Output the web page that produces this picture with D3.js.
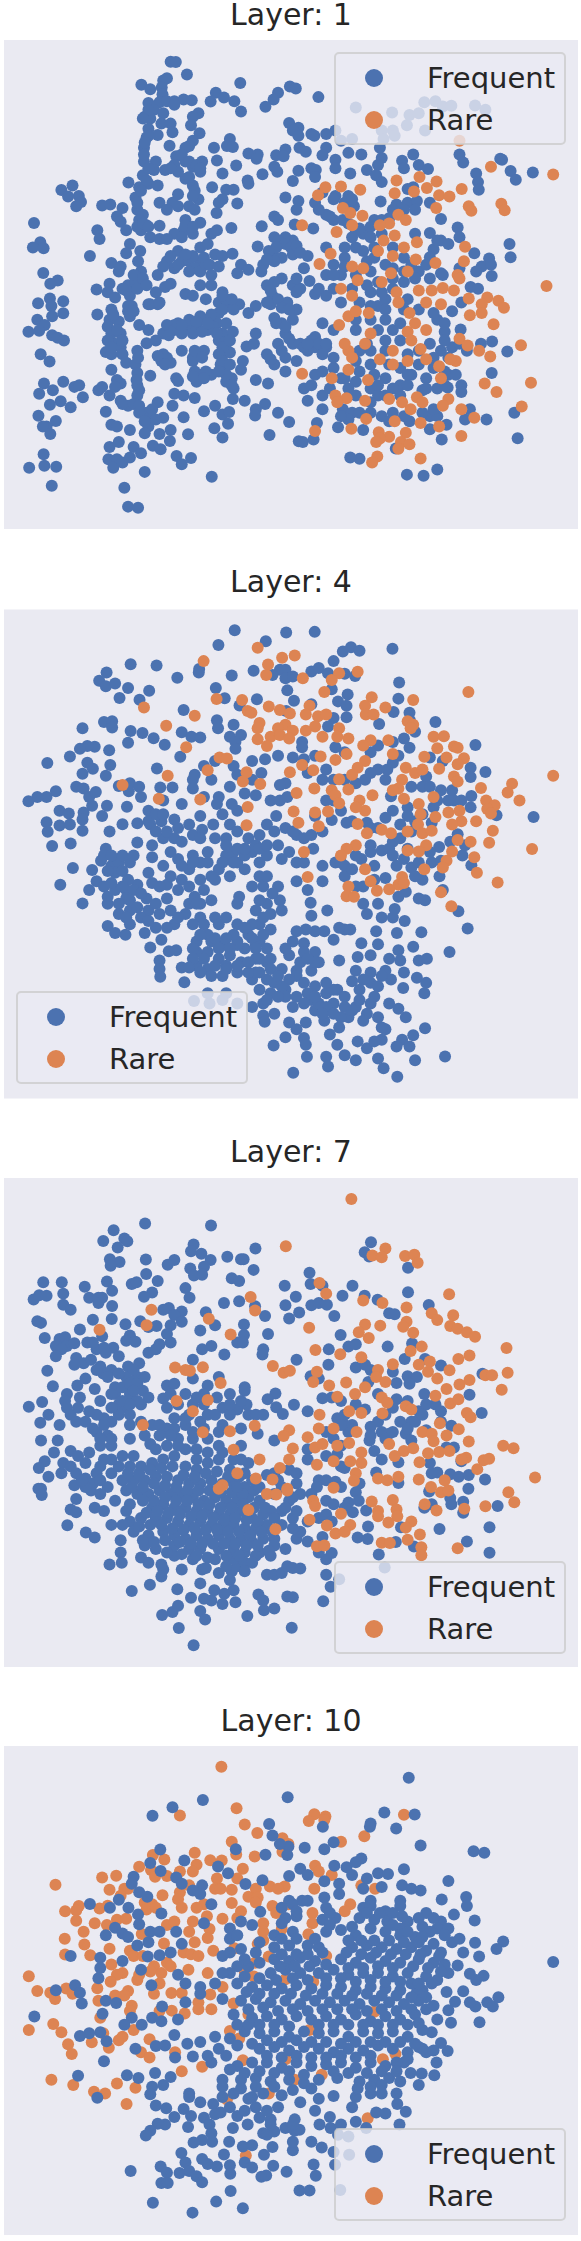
<!DOCTYPE html>
<html><head><meta charset="utf-8">
<script src="https://cdn.jsdelivr.net/npm/d3@7"></script>
<style>html,body{margin:0;padding:0;background:#fff}svg{display:block}text{font-family:"DejaVu Sans",sans-serif;fill:#262626}</style>
</head><body><svg id="c" width="581" height="2241"></svg>
<script>
const layerNames = ["Layer: 1","Layer: 4","Layer: 7","Layer: 10"];
const legendLabels = ["Frequent","Rare"];
const colorFrequent = "#4c72b0", colorRare = "#dd8452";

const layer1Frequent = [[460,180],[474,181],[504,217],[381,247],[405,260],[440,235],[450,228],[436,255],[438,275],[648,242],[782,252],[798,258],[859,283],[750,270],[738,290],[716,311],[582,270],[604,284],[568,296],[632,295],[650,325],[400,300],[430,298],[450,295],[470,295],[495,290],[517,292],[470,305],[415,320],[440,330],[390,340],[405,345],[535,330],[520,340],[515,365],[435,360],[460,360],[400,375],[465,385],[538,388],[425,393],[395,400],[520,410],[510,425],[457,424],[388,430],[500,430],[620,405],[612,425],[628,428],[577,430],[670,447],[695,450],[692,462],[770,435],[745,452],[765,455],[780,358],[805,372],[790,380],[805,395],[840,390],[848,395],[880,390],[808,430],[825,442],[880,430],[870,452],[905,380],[920,410],[950,405],[940,445],[975,450],[1025,430],[1030,460],[1115,450],[1085,468],[1090,490],[1130,480],[1155,492],[1240,450],[1250,473],[1350,462],[1355,465],[1285,505],[1290,530],[1292,552],[1378,498],[1392,523],[1438,502],[960,313],[1058,328],[1145,298],[1175,295],[1195,310],[1218,308],[1282,307],[1310,320],[1105,335],[1130,330],[1098,365],[1147,380],[1030,380],[1060,380],[1065,395],[1035,405],[388,470],[420,470],[385,510],[475,455],[470,480],[500,470],[545,470],[520,485],[540,500],[415,495],[445,495],[585,467],[637,482],[600,505],[708,507],[740,485],[748,500],[805,497],[790,527],[840,490],[852,495],[850,515],[905,465],[905,490],[945,505],[990,495],[1020,480],[1015,510],[1030,530],[1115,545],[195,540],[165,553],[183,572],[212,570],[205,600],[218,588],[91,649],[108,705],[88,720],[117,722],[116,794],[155,816],[135,825],[134,868],[102,882],[170,876],[170,911],[138,890],[140,920],[100,930],[120,945],[76,965],[105,962],[140,975],[155,982],[172,990],[109,1030],[133,1051],[118,1115],[105,1145],[142,1135],[170,1110],[200,1125],[213,1120],[223,1155],[163,1167],[134,1177],[190,1184],[103,1209],[150,1224],[125,1240],[115,1240],[135,1262],[117,1321],[78,1360],[119,1354],[151,1357],[139,1412],[275,598],[297,595],[330,605],[315,630],[325,645],[262,670],[268,695],[340,670],[242,745],[300,765],[325,775],[320,790],[260,842],[295,825],[290,850],[310,865],[262,915],[300,900],[295,930],[290,950],[320,935],[300,970],[325,970],[310,1000],[325,1010],[285,1024],[300,1030],[330,1030],[340,1055],[265,1135],[275,1125],[295,1150],[300,1075],[315,1105],[325,1115],[310,1125],[285,1197],[325,1165],[345,1180],[300,1235],[315,1240],[350,1250],[295,1300],[320,1285],[292,1335],[315,1335],[305,1360],[330,1345],[350,1330],[360,1300],[380,1318],[390,1372],[335,1418],[345,1473],[372,1476],[412,1296],[433,1306],[476,1326],[490,1350],[515,1332],[571,1386],[346,531],[375,545],[365,575],[400,535],[425,540],[370,610],[385,625],[375,640],[395,655],[380,670],[430,657],[405,690],[430,695],[350,710],[378,730],[340,737],[372,760],[380,790],[370,805],[345,830],[365,820],[350,860],[355,890],[350,920],[375,945],[400,960],[395,998],[420,990],[425,800],[420,850],[400,885],[425,885],[445,835],[460,825],[440,970],[470,945],[450,945],[500,520],[520,540],[535,580],[480,565],[465,590],[430,590],[450,610],[480,600],[510,600],[525,610],[500,640],[540,648],[495,670],[520,680],[450,760],[480,730],[470,780],[510,760],[540,720],[540,760],[525,780],[550,750],[570,680],[585,670],[560,710],[580,740],[600,745],[540,790],[570,800],[627,738],[624,663],[584,620],[572,545],[610,552],[630,552],[600,580],[590,590],[640,592],[668,525],[670,535],[540,830],[570,830],[600,850],[500,855],[520,860],[555,870],[590,880],[620,885],[645,885],[590,910],[550,930],[530,950],[500,950],[470,960],[455,975],[490,970],[560,960],[585,940],[600,970],[610,1000],[628,965],[520,1040],[490,1020],[440,1030],[435,1050],[460,1055],[550,1020],[520,1050],[600,1030],[620,1025],[595,1060],[655,1050],[650,1075],[665,1008],[690,970],[685,1000],[605,1080],[540,1090],[570,1090],[530,1110],[625,1100],[610,1110],[630,1130],[475,1100],[480,1108],[405,1093],[370,1020],[365,1060],[370,1085],[370,1120],[370,1150],[470,1145],[495,1150],[465,1180],[425,1170],[440,1215],[405,1215],[400,1240],[390,1260],[430,1262],[460,1250],[458,1282],[507,1263],[495,1213],[525,1157],[550,1196],[580,1180],[600,1205],[618,1198],[615,1232],[578,1245],[600,1272],[628,1160],[660,1165],[690,1190],[688,1208],[715,1175],[690,1105],[723,1115],[750,1200],[780,1227],[727,1265],[806,1283],[817,1285],[846,1278],[855,1230],[706,658],[740,630],[750,640],[795,653],[770,575],[805,585],[800,610],[845,665],[695,717],[740,690],[770,690],[790,700],[735,740],[710,770],[790,740],[830,745],[650,770],[640,795],[670,785],[705,790],[820,780],[835,817],[720,830],[760,810],[790,830],[800,850],[735,860],[730,885],[775,880],[850,855],[690,890],[670,910],[740,925],[760,940],[800,900],[790,930],[770,970],[750,1000],[790,1000],[810,1000],[850,980],[850,1010],[830,1020],[720,1030],[740,1060],[770,1080],[800,1050],[770,1040],[870,560],[850,590],[880,625],[900,640],[905,570],[940,570],[955,600],[925,640],[880,720],[960,670],[980,680],[1010,640],[1050,635],[1070,595],[1100,590],[1125,585],[1100,550],[1027,586],[1160,590],[1190,637],[1235,662],[1240,690],[1120,680],[1160,678],[1190,700],[1170,725],[1160,748],[1280,737],[1375,710],[1378,748],[1320,752],[1300,775],[1285,790],[1325,770],[1327,803],[1240,780],[1190,795],[1130,790],[1195,800],[1270,835],[1290,840],[1245,880],[1220,905],[1180,930],[1200,965],[1243,958],[1298,1000],[1328,993],[1369,1022],[1327,1085],[1245,1120],[1245,1140],[1208,1127],[1388,1200],[1313,1220],[1268,1190],[1255,1220],[1397,1274],[1192,1278],[1160,1248],[1205,1235],[1180,1365],[1143,1383],[1098,1380],[970,1334],[945,1330],[1068,1304],[980,1250],[912,1242],[930,750],[900,770],[960,720],[920,800],[880,800],[950,840],[880,860],[990,760],[1010,750],[1020,820],[1060,810],[1090,820],[1000,850],[1040,870],[1020,890],[1100,870],[1060,960],[1020,960],[960,960],[990,1000],[960,1050],[1000,1060],[1080,940],[1080,1070],[1160,1000],[1190,1020],[1220,1010],[1200,990],[1170,1040],[1150,1100],[1080,1120],[1100,1120],[1040,1100],[1000,1130],[960,1110],[940,1130],[900,1070],[850,1090],[820,1130],[840,1120],[870,1150],[830,1165],[870,1190],[925,1190],[950,1200],[1030,1210],[1050,1225],[1105,1225],[1160,1210],[1180,1210],[1020,1150],[960,1150],[1180,1130],[1140,1135],[1040,1020],[1130,1020],[1100,1030],[870,940],[900,960],[920,880]];
const layer1FrequentDense = [[400,320],[385,345],[400,395],[390,415],[388,450],[400,490],[395,525],[380,555],[370,590],[460,745],[490,760],[520,745],[555,770],[510,790],[480,770],[440,775],[565,770],[590,775],[500,740],[480,940],[510,930],[540,920],[570,915],[600,900],[520,970],[545,965],[575,950],[610,940],[590,990],[600,1010],[620,990],[490,945],[530,935],[560,940],[585,970],[305,915],[315,960],[330,990],[290,990],[345,890],[345,905],[360,905],[300,1010],[360,800],[385,810],[340,845],[370,840],[395,830],[330,840],[405,885],[430,880],[330,1175],[360,1175],[375,1180],[395,1200],[375,1200],[410,1190],[420,1220],[390,1225],[450,1040],[425,1035],[445,1060],[525,1020],[545,1040],[525,1080],[555,1080],[590,1030],[600,1050],[620,1060],[610,1090],[625,1120],[520,1095],[550,1100],[590,1080],[372,1040],[368,1105],[375,1135],[470,680],[500,655],[490,690],[450,695],[520,660],[370,660],[385,650],[400,660],[490,450],[510,470],[530,480],[540,490],[480,500],[460,490],[510,515],[525,555],[520,570],[610,870],[630,900],[600,860],[625,870],[750,700],[770,710],[745,720],[725,730],[785,720],[800,715],[810,735],[760,750],[740,760],[720,755],[740,820],[730,845],[750,870],[760,895],[780,900],[720,880],[810,840],[800,810],[745,940],[770,950],[780,985],[820,1010],[840,990],[860,1000],[880,1010],[870,1030],[830,1000],[760,1020],[730,1045],[900,580],[930,590],[950,580],[860,610],[890,630],[940,650],[970,665],[1000,660],[1030,640],[1060,610],[1090,610],[1120,610],[1030,680],[1000,690],[950,690],[930,720],[980,730],[1010,720],[1060,720],[1090,750],[1040,770],[1110,770],[1150,770],[1180,700],[1210,710],[1160,810],[1120,810],[1090,790],[1060,780],[1000,790],[960,800],[930,775],[900,800],[900,840],[860,840],[990,830],[1030,850],[1060,840],[1000,890],[970,880],[1040,900],[1090,900],[1130,900],[1170,910],[1200,940],[1040,930],[1000,930],[960,930],[1080,990],[1040,990],[1000,1020],[970,1020],[1010,1090],[970,1080],[930,1100],[900,1040],[880,1000],[870,1080],[890,1130],[920,1100],[1050,1060],[1110,1090],[1130,1060],[1170,1070],[1200,1080],[1210,1040],[1150,1130],[1060,1130],[1040,1150],[1000,1170],[970,1200],[940,1220],[920,1210],[1000,1200],[1060,1200],[1090,1210],[1140,1200],[1170,1190],[1210,1090],[1020,1120],[1080,1150],[1100,1090],[1200,1120],[1240,1000],[1230,1090],[1260,1020]];
const layer1Rare = [[1240,410],[1325,485],[1493,508],[1070,525],[1132,515],[1178,528],[1152,547],[1065,562],[1117,557],[1246,550],[1185,568],[1213,572],[878,545],[858,568],[920,543],[972,552],[1177,605],[1265,600],[1272,613],[1353,593],[1362,612],[815,655],[925,605],[945,620],[978,628],[1075,625],[1095,640],[1050,650],[1025,655],[950,655],[908,675],[1065,685],[1035,700],[1090,720],[1125,705],[1255,718],[892,738],[862,768],[1020,730],[1060,745],[1122,755],[1252,760],[1175,765],[950,775],[980,780],[1475,832],[1055,795],[1100,790],[965,815],[1030,820],[1235,800],[1240,810],[920,840],[950,860],[1070,850],[1130,845],[1165,845],[1195,838],[1225,845],[1265,868],[1315,865],[1345,875],[1300,885],[1360,895],[1300,910],[1268,917],[1332,943],[940,920],[960,905],[995,910],[1075,880],[1105,910],[1150,880],[1190,885],[1120,940],[1100,965],[915,945],[1150,960],[1110,990],[1000,970],[985,1000],[940,1020],[950,1040],[930,1000],[1240,985],[1262,1005],[1293,1020],[1323,1037],[1406,1004],[1230,1050],[1215,1045],[1135,1015],[1060,1020],[1025,1045],[1060,1060],[1100,1050],[1150,1045],[1185,1065],[815,1087],[940,1075],[993,1105],[895,1100],[1190,1100],[1308,1115],[1340,1140],[1433,1113],[905,1150],[935,1158],[910,1170],[985,1165],[1050,1160],[1125,1155],[1140,1170],[1210,1160],[1195,1180],[1085,1170],[1108,1190],[1245,1190],[1280,1215],[1408,1182],[988,1218],[1065,1225],[1135,1230],[1185,1240],[948,1247],[850,1253],[1022,1257],[1095,1258],[1245,1268],[1050,1270],[1025,1275],[1015,1285],[1082,1285],[1105,1292],[1075,1305],[1135,1333],[1018,1327],[1004,1345]];

const layer4Frequent = [[633,205],[772,212],[849,210],[589,248],[717,237],[925,267],[947,255],[970,265],[1059,259],[352,304],[422,308],[287,328],[267,352],[285,368],[310,360],[345,373],[322,402],[376,407],[402,381],[478,343],[537,318],[536,328],[625,337],[684,323],[582,373],[606,403],[693,406],[646,424],[495,437],[770,320],[755,320],[735,335],[770,345],[790,340],[775,380],[793,410],[840,325],[860,315],[885,330],[900,295],[930,332],[958,338],[895,377],[1077,357],[1075,404],[1062,443],[912,412],[938,392],[935,425],[840,420],[772,440],[1105,445],[1106,467],[1120,500],[1175,472],[1023,478],[935,458],[900,460],[885,485],[222,490],[280,472],[302,470],[302,488],[352,498],[384,504],[414,519],[345,532],[444,538],[490,502],[516,515],[540,517],[486,573],[294,554],[255,544],[235,542],[215,550],[188,572],[127,591],[235,590],[250,608],[222,622],[297,597],[285,628],[423,607],[320,658],[205,660],[225,665],[240,690],[258,675],[150,673],[125,690],[100,690],[76,702],[248,715],[288,715],[275,745],[342,718],[225,735],[222,755],[160,730],[185,738],[125,763],[160,773],[188,770],[128,791],[222,788],[140,832],[190,825],[330,769],[370,766],[295,790],[285,840],[370,822],[196,896],[162,945],[248,902],[272,875],[222,999],[240,960],[260,935],[290,980],[350,650],[375,660],[347,673],[432,662],[465,662],[380,690],[400,730],[440,700],[490,710],[540,745],[405,770],[435,760],[470,755],[520,800],[575,770],[545,785],[440,810],[470,810],[490,820],[410,830],[410,865],[460,850],[520,860],[560,850],[540,880],[440,890],[510,900],[490,930],[400,910],[450,945],[370,945],[340,960],[300,890],[320,880],[350,880],[310,910],[345,930],[340,985],[310,960],[320,1030],[350,1020],[395,985],[400,1020],[380,1040],[430,1030],[460,1020],[500,1030],[470,1060],[290,1065],[310,1085],[338,1090],[350,1060],[390,1085],[435,1105],[405,1127],[455,1138],[475,1135],[430,1165],[430,1190],[432,1212],[490,1185],[497,1228],[525,980],[550,960],[570,990],[580,930],[620,920],[640,880],[610,860],[630,850],[680,850],[700,880],[660,900],[600,880],[645,980],[640,1000],[710,950],[720,1000],[755,990],[750,950],[800,935],[830,960],[838,997],[840,1035],[883,1020],[870,890],[870,935],[820,880],[800,880],[780,850],[845,840],[720,860],[700,800],[670,810],[620,770],[640,790],[720,770],[745,745],[730,700],[755,700],[775,690],[640,730],[600,740],[585,710],[625,710],[660,680],[690,685],[620,660],[590,690],[550,690],[520,640],[525,625],[520,665],[570,640],[550,600],[580,585],[630,600],[640,625],[680,585],[715,580],[705,620],[680,640],[750,570],[790,575],[820,580],[815,530],[770,650],[755,655],[830,620],[815,545],[630,480],[650,510],[620,515],[635,530],[635,550],[585,467],[588,490],[850,570],[880,610],[870,640],[905,545],[930,560],[1020,540],[1000,560],[1060,530],[1090,520],[1105,547],[1075,570],[1020,610],[1045,610],[985,640],[1283,539],[1160,575],[1195,585],[1270,605],[1270,632],[1310,617],[1150,630],[1140,660],[1190,670],[1220,670],[1160,660],[1272,687],[1270,720],[1225,700],[1110,660],[1055,688],[1060,730],[1100,720],[1100,745],[1140,740],[1165,765],[1340,743],[1440,748],[1235,798],[1215,820],[1255,830],[1185,835],[1248,860],[1272,888],[1165,880],[1190,875],[1110,895],[1140,930],[1186,920],[1195,960],[1130,985],[1147,990],[1095,965],[1075,980],[1060,820],[1030,845],[1070,890],[1040,925],[1010,890],[975,870],[1000,830],[1020,780],[990,765],[935,765],[895,757],[880,700],[850,745],[905,880],[920,880],[980,950],[960,950],[930,920],[870,790],[840,800],[800,800],[1237,1022],[1262,1072],[1213,1140],[1137,1083],[1071,1085],[1092,1050],[1060,1040],[1030,1040],[1065,1015],[1020,1000],[980,1000],[990,1030],[1015,1080],[1020,1118],[975,1115],[1115,1125],[1075,1135],[1050,1160],[1080,1165],[1130,1165],[1152,1160],[1000,1150],[965,1155],[915,1165],[960,1195],[1000,1200],[1040,1195],[1055,1220],[1090,1200],[1125,1215],[1150,1230],[1088,1245],[1145,1260],[950,1225],[970,1250],[1000,1230],[1010,1270],[930,1075],[915,1070],[945,1075],[900,1105],[875,1080],[850,1080],[825,1075],[800,1080],[820,1115],[850,1140],[860,1170],[780,1150],[810,1170],[840,1195],[800,1195],[730,1075],[700,1060],[700,1110],[670,1090],[640,1060],[660,1130],[720,1130],[690,1160],[650,1170],[620,1150],[560,1090],[540,1040],[580,1040],[530,1110],[560,1140],[530,1140],[530,1180],[560,1190],[600,1210],[640,1200],[680,1220],[720,1220],[730,1260],[770,1250],[800,1210],[850,1240],[880,1260],[910,1250],[770,1270],[710,1290],[790,1300],[740,1320],[710,1325],[714,1343],[780,1345],[825,1345],[800,1365],[850,1310],[875,1340],[890,1380],[915,1360],[960,1300],[940,1330],[990,1320],[1020,1330],[1050,1290],[1075,1305],[1095,1330],[1040,1365],[1030,1395],[1085,1395],[1115,1382],[1147,1362],[770,1388],[738,1412],[820,1390],[825,1410],[828,1445],[880,1445],[910,1410],[930,1440],[965,1400],[960,1455],[990,1420],[1020,1450],[1035,1478],[1072,1503],[1070,1415],[1105,1415],[1120,1455],[1201,1444],[885,1473],[791,1491],[640,1290],[610,1260],[560,1260],[523,1283],[565,1290],[600,1280],[680,1300],[570,1110],[600,1120],[590,1160],[640,1110],[690,1120],[720,1170],[760,1190],[690,1200],[740,1230],[610,1180],[830,1260],[840,1280],[900,1290],[930,1300],[860,1290]];
const layer4FrequentDense = [[280,860],[300,860],[330,860],[360,860],[290,905],[330,905],[280,950],[300,940],[330,950],[360,960],[290,1000],[320,1000],[350,990],[380,970],[410,940],[430,950],[460,920],[480,960],[450,985],[420,1000],[370,1010],[340,1040],[400,1050],[420,1070],[450,1070],[480,1040],[510,1000],[540,1000],[400,760],[420,740],[440,740],[420,790],[450,790],[480,780],[510,770],[540,810],[580,810],[610,810],[560,880],[590,900],[630,880],[660,860],[690,830],[640,840],[610,830],[480,870],[520,880],[490,890],[570,920],[540,930],[510,950],[530,1000],[660,840],[700,840],[720,830],[740,790],[770,780],[790,790],[820,810],[750,830],[760,870],[700,920],[680,950],[720,920],[735,970],[700,990],[690,1020],[520,1060],[550,1060],[590,1060],[610,1040],[630,1090],[680,1060],[710,1040],[730,1030],[760,1020],[710,1090],[680,1100],[660,1070],[640,1120],[610,1100],[580,1100],[540,1090],[520,1130],[590,1130],[620,1130],[690,1130],[700,1160],[730,1160],[670,1170],[640,1180],[610,1190],[580,1180],[550,1160],[520,1160],[510,1185],[540,1200],[570,1210],[670,1200],[700,1200],[730,1190],[750,1210],[780,1220],[820,1230],[760,1240],[700,1250],[720,1280],[750,1270],[800,1270],[820,1290],[850,1270],[880,1300],[870,1320],[900,1320],[920,1330],[950,1310],[970,1280],[980,1340],[1000,1290],[930,1270],[900,1250],[880,1230],[1030,1360],[1010,1400],[790,1110],[770,1130],[820,1140],[850,1170],[830,1160],[1020,1240],[980,1220],[1030,1210],[1000,780],[1040,750],[1080,770],[1120,760],[1170,720],[1110,790],[1080,810],[1050,840],[1100,840],[1130,880],[1160,850],[1090,870],[1120,920],[1060,860],[1000,850],[960,860],[930,890],[950,900],[1010,930],[950,760],[920,730],[900,640],[930,640],[960,650],[1000,620],[1040,640],[1060,590],[1180,700],[1210,700],[1245,700],[900,700]];
const layer4Rare = [[695,256],[549,295],[761,285],[795,279],[723,305],[718,335],[817,345],[965,326],[915,330],[895,350],[875,385],[1264,385],[388,430],[584,405],[653,408],[1003,400],[1115,408],[985,425],[1040,430],[987,450],[1008,450],[668,440],[678,445],[725,427],[755,437],[782,447],[835,425],[825,450],[525,454],[448,483],[700,475],[695,490],[858,455],[880,450],[850,485],[770,480],[750,490],[790,497],[825,497],[915,490],[1100,470],[1115,480],[1108,490],[695,522],[730,515],[755,510],[780,520],[720,542],[870,515],[910,515],[940,520],[502,545],[1000,525],[980,540],[1048,525],[1170,515],[1198,513],[1225,543],[1235,547],[1180,548],[1060,565],[1205,575],[592,575],[612,578],[865,572],[905,582],[935,565],[985,585],[1145,573],[1252,577],[1235,595],[815,597],[560,612],[845,612],[782,618],[965,605],[950,625],[1095,605],[1120,620],[1140,610],[1185,608],[1225,630],[1235,645],[452,628],[665,618],[655,645],[702,652],[915,638],[330,655],[1085,640],[1075,665],[1298,664],[1382,651],[1370,677],[1493,628],[848,665],[940,668],[895,670],[905,685],[1005,685],[1060,670],[800,678],[540,697],[428,695],[1090,695],[1170,690],[970,700],[1402,700],[1312,700],[1335,714],[1315,725],[1325,738],[668,719],[915,708],[985,730],[960,720],[792,732],[885,732],[1130,710],[1135,740],[850,735],[1210,735],[1240,730],[1245,760],[1175,748],[1285,760],[1220,770],[665,772],[805,765],[860,775],[965,768],[1128,770],[1030,785],[1055,795],[990,795],[1100,790],[1140,795],[1330,788],[1165,788],[1320,823],[1436,841],[1235,815],[1270,820],[1150,830],[1130,848],[1100,845],[960,830],[935,840],[920,860],[820,850],[1220,848],[1280,865],[1205,875],[1195,895],[1145,900],[1287,910],[830,922],[1343,938],[1085,922],[1075,945],[1090,940],[985,900],[1000,935],[1017,962],[1050,958],[940,950],[935,978],[955,980],[1190,967],[1218,1007]];

const layer7Frequent = [[391,274],[569,280],[306,294],[278,325],[335,318],[343,326],[317,344],[522,335],[515,355],[543,362],[689,347],[613,371],[650,378],[657,378],[393,379],[470,380],[452,394],[568,380],[296,378],[322,386],[298,397],[550,400],[513,405],[523,425],[545,423],[684,409],[394,421],[425,441],[625,433],[645,441],[116,445],[166,445],[228,458],[288,443],[355,450],[368,445],[302,470],[500,462],[511,490],[410,475],[388,487],[835,417],[838,450],[870,455],[768,455],[951,455],[1001,329],[984,358],[996,370],[1101,403],[1101,474],[798,487],[770,512],[840,512],[860,505],[882,510],[924,484],[984,484],[1019,496],[1157,511],[1050,535],[1065,538],[780,550],[807,533],[902,543],[688,515],[715,543],[604,505],[645,500],[90,495],[105,483],[125,484],[170,478],[170,510],[190,525],[240,490],[265,490],[275,490],[265,505],[302,514],[250,554],[301,552],[100,558],[110,563],[338,567],[378,558],[400,575],[422,572],[455,520],[440,525],[490,530],[470,540],[490,560],[460,570],[450,595],[555,532],[540,585],[580,570],[658,568],[658,598],[723,595],[640,620],[655,620],[350,600],[340,615],[365,618],[215,582],[275,602],[120,607],[160,610],[175,605],[150,630],[180,630],[200,622],[165,640],[150,660],[235,620],[260,640],[280,635],[305,635],[320,660],[205,665],[225,680],[200,685],[127,702],[270,690],[300,700],[345,690],[375,680],[400,650],[430,625],[420,640],[460,620],[520,670],[545,640],[570,630],[605,655],[710,640],[708,655],[800,670],[887,640],[919,598],[940,632],[960,625],[1046,632],[886,685],[1112,623],[1092,668],[1147,668],[1190,687],[960,693],[985,685],[1000,700],[1302,711],[838,718],[860,725],[994,735],[1060,705],[1070,738],[1100,718],[1125,720],[1105,740],[1267,772],[1300,825],[142,747],[180,770],[208,745],[230,725],[175,790],[215,780],[255,755],[278,710],[310,750],[340,720],[370,720],[350,770],[385,760],[113,793],[77,807],[130,830],[190,830],[160,860],[108,853],[230,850],[270,790],[320,800],[340,810],[400,780],[440,783],[450,745],[470,740],[520,725],[560,745],[590,720],[660,750],[620,770],[585,780],[743,768],[722,785],[745,808],[763,828],[793,801],[830,820],[870,782],[895,780],[920,790],[960,800],[985,815],[1020,770],[1070,785],[1110,850],[1080,850],[1020,850],[1000,865],[1145,770],[1175,800],[1130,820],[1218,862],[1190,850],[1150,875],[1095,885],[1050,885],[1030,880],[1110,905],[997,905],[1010,935],[1030,960],[1075,968],[1205,925],[1225,925],[1245,965],[1160,970],[1165,1000],[1180,998],[1015,998],[1215,1003],[1238,1010],[1265,1005],[1309,1018],[1264,1045],[1158,1053],[1215,1072],[1218,1090],[1250,1083],[1165,1090],[1145,1100],[1250,1115],[1075,1028],[970,1030],[960,1055],[940,1085],[968,1080],[988,1108],[952,1113],[993,1155],[1082,1157],[965,1187],[992,1191],[1068,1200],[1117,1213],[1186,1162],[1343,1095],[1321,1157],[1321,1231],[1260,1198],[1022,1236],[930,860],[910,840],[930,830],[940,880],[920,920],[910,945],[930,985],[860,1020],[880,1020],[905,1025],[920,1040],[855,1040],[830,930],[830,960],[780,990],[800,1000],[750,1020],[720,1005],[670,970],[650,920],[650,870],[670,830],[640,815],[600,860],[695,885],[740,905],[690,830],[710,830],[110,905],[155,905],[145,940],[120,965],[104,985],[130,1010],[110,1045],[103,1045],[112,1063],[170,970],[190,935],[240,940],[190,980],[205,1000],[200,1035],[245,1050],[205,1075],[190,1105],[205,1113],[255,1100],[280,1110],[181,1151],[231,1172],[255,1187],[300,1150],[325,1195],[325,1230],[295,1265],[328,1260],[355,1342],[404,1324],[437,1412],[465,1403],[480,1385],[515,1362],[478,1337],[482,1450],[522,1500],[540,1400],[553,1425],[667,1415],[712,1398],[740,1393],[787,1449],[872,1372],[892,1330],[880,1295],[1038,1274],[915,1308],[435,1300],[440,1280],[380,1245],[400,1260],[435,1265],[470,1240],[490,1280],[520,1250],[545,1280],[555,1275],[590,1290],[625,1285],[640,1270],[540,1320],[620,1310],[630,1340],[635,1375],[600,1380],[570,1370],[550,1365],[605,1350],[578,1340],[697,1352],[710,1370],[775,1358],[790,1360],[720,1295],[740,1295],[760,1290],[775,1270],[790,1275],[810,1277],[730,1240],[770,1220],[800,1190],[830,1198],[880,1250],[895,1232],[860,1230],[870,1185],[830,1140],[790,1130],[760,1110],[780,1080],[810,1060],[800,1030],[260,880],[290,890],[270,920],[300,920],[350,900],[405,915],[410,860],[450,870],[500,860],[480,900],[540,850],[560,900],[590,920],[500,930],[530,930],[300,1000],[320,980],[350,980],[380,980],[410,970],[440,960],[470,950],[500,980],[530,990],[560,970],[590,960],[620,990],[330,1020],[360,1020],[390,1020],[420,1010],[450,1010],[480,1020],[510,1030],[540,1030],[570,1020],[600,1030],[630,1030],[660,1040],[340,1050],[370,1060],[400,1060],[430,1050],[460,1060],[490,1060],[520,1070],[550,1080],[580,1070],[610,1080],[640,1080],[670,1070],[700,1080],[410,1100],[440,1090],[470,1100],[500,1100],[530,1110],[560,1110],[590,1120],[620,1120],[650,1110],[680,1130],[710,1120],[730,1110],[380,1130],[350,1140],[420,1130],[450,1130],[480,1140],[510,1150],[540,1140],[570,1150],[600,1150],[630,1150],[660,1160],[690,1160],[720,1150],[360,1170],[400,1180],[440,1170],[470,1180],[500,1190],[530,1180],[560,1190],[590,1180],[620,1190],[650,1190],[680,1200],[710,1190],[740,1190],[390,1210],[420,1220],[470,1210],[510,1220],[540,1220],[590,1220],[630,1220],[660,1230],[700,1230],[740,1210],[630,1250],[660,1260],[690,1240],[580,1250],[280,960],[260,1000],[230,1015],[290,1040],[310,1080],[350,1090],[340,1110],[330,1150],[300,850],[320,830],[350,830],[380,800],[310,770],[370,790],[430,860],[470,870],[520,900],[510,830],[560,830],[600,810],[665,800],[660,760]];
const layer7FrequentDense = [[250,620],[285,650],[245,670],[260,700],[290,720],[320,710],[360,700],[330,750],[350,740],[370,740],[390,720],[300,770],[330,790],[360,760],[350,800],[300,810],[280,840],[260,830],[240,820],[210,810],[180,810],[205,850],[250,870],[280,860],[300,900],[270,900],[350,860],[380,850],[390,890],[430,890],[460,890],[500,840],[470,840],[520,880],[550,870],[590,880],[620,830],[420,930],[450,920],[480,920],[530,960],[560,940],[600,940],[630,960],[650,960],[450,810],[480,800],[520,800],[550,800],[580,830],[620,800],[650,790],[460,770],[500,770],[530,780],[550,770],[210,950],[230,970],[270,980],[300,960],[330,950],[360,950],[250,1030],[230,1040],[270,1060],[220,1020],[165,1000],[270,1020],[345,1000],[375,1000],[405,990],[435,985],[465,980],[495,1005],[525,1010],[555,1000],[585,995],[615,1010],[645,1010],[355,1040],[385,1040],[415,1030],[445,1035],[475,1040],[505,1050],[535,1050],[565,1050],[595,1055],[625,1055],[655,1060],[685,1050],[385,1080],[415,1080],[445,1070],[475,1080],[505,1080],[535,1090],[565,1090],[595,1100],[625,1100],[655,1090],[685,1100],[715,1100],[395,1115],[425,1110],[455,1115],[485,1120],[515,1125],[545,1125],[575,1130],[605,1135],[635,1130],[665,1135],[695,1140],[375,1155],[405,1150],[435,1150],[465,1160],[495,1165],[525,1160],[555,1165],[585,1165],[615,1170],[645,1170],[675,1180],[705,1170],[735,1170],[385,1195],[415,1200],[445,1195],[485,1200],[515,1205],[545,1205],[575,1205],[605,1205],[635,1205],[665,1210],[695,1210],[725,1225],[450,1230],[490,1235],[530,1240],[560,1245],[610,1240],[645,1240],[680,1260],[610,1270],[660,1285],[740,1000],[760,1040],[740,1060],[700,1040],[680,1020],[660,1000],[640,1040],[790,1070],[770,1100],[800,1110],[740,1130],[760,1150],[810,1170],[790,1160],[840,1060],[880,1080],[900,1090],[930,1100],[880,1120],[895,1140],[860,1130],[880,880],[900,900],[920,860],[950,860],[880,950],[920,980],[1000,890],[1040,900],[1060,880],[1100,870],[1120,850],[1040,830],[1060,810],[1100,790],[1150,800],[1140,830],[1190,820]];
const layer7Rare = [[948,203],[771,340],[1040,347],[1005,367],[1030,372],[1093,369],[1118,365],[1127,388],[862,447],[880,478],[676,488],[688,527],[980,498],[1032,505],[1097,518],[1212,480],[1165,535],[1180,555],[1223,541],[563,551],[408,525],[395,570],[268,583],[1097,560],[1088,574],[985,568],[968,590],[1026,571],[834,577],[622,597],[1115,592],[1215,572],[1235,580],[1260,590],[1282,603],[995,607],[1108,645],[1138,632],[1367,636],[851,642],[918,654],[975,663],[1267,658],[1237,668],[736,688],[765,708],[782,702],[472,693],[500,700],[512,702],[547,692],[1060,683],[1130,685],[1160,675],[1213,701],[1155,705],[1020,700],[1015,720],[1040,735],[1180,725],[855,705],[845,735],[888,745],[934,736],[1310,715],[1328,715],[1370,708],[595,738],[1267,729],[1240,742],[1354,757],[1205,755],[985,750],[958,770],[910,778],[1175,775],[1030,780],[1045,795],[1095,805],[1215,797],[1237,785],[1110,815],[560,787],[476,790],[520,820],[1032,826],[975,825],[942,820],[862,830],[1260,825],[1270,837],[1187,855],[385,860],[547,881],[687,862],[620,878],[860,870],[900,870],[1238,872],[780,875],[765,892],[1205,890],[830,895],[962,880],[1140,880],[1165,885],[1170,907],[1265,908],[1358,920],[1386,927],[630,932],[790,928],[850,925],[870,915],[910,920],[942,912],[1050,915],[1090,935],[1115,927],[975,940],[1155,942],[1185,938],[1213,935],[1258,955],[1245,960],[780,960],[700,960],[855,975],[900,965],[945,965],[975,970],[1065,950],[1132,968],[1305,962],[1320,958],[1288,988],[1444,1012],[640,1000],[755,985],[960,1000],[690,1015],[735,1018],[1020,1015],[1045,1020],[1075,1010],[1130,1018],[955,1022],[1200,1020],[600,1035],[590,1045],[775,1045],[720,1060],[745,1062],[775,1050],[900,1042],[1163,1040],[1190,1055],[1210,1050],[1372,1055],[1003,1082],[1060,1078],[845,1080],[1388,1084],[1146,1090],[1310,1096],[1178,1108],[1253,1103],[670,1107],[850,1095],[1020,1110],[1070,1105],[1020,1125],[920,1118],[1072,1125],[835,1135],[1048,1143],[1110,1140],[1095,1158],[882,1152],[743,1163],[945,1150],[905,1175],[930,1170],[1133,1178],[1100,1193],[1030,1202],[1052,1203],[1235,1218],[855,1212],[875,1210],[1137,1215],[1137,1238]];

const layer10Rare = [[597,200],[1090,340],[485,342],[638,321],[848,338],[878,345],[875,355],[833,358],[660,368],[694,393],[983,402],[920,418],[625,418],[762,408],[778,425],[762,447],[637,455],[687,461],[412,457],[443,470],[525,450],[567,472],[598,473],[375,491],[530,485],[485,505],[520,505],[655,497],[407,500],[418,520],[450,518],[850,488],[895,515],[860,505],[275,522],[313,517],[585,525],[640,525],[149,543],[295,558],[335,555],[345,555],[325,575],[485,565],[510,545],[580,555],[595,555],[625,558],[438,574],[690,555],[728,548],[768,548],[750,555],[848,555],[975,545],[1012,555],[480,585],[670,578],[695,580],[690,595],[390,595],[410,600],[490,610],[395,615],[420,610],[550,600],[530,610],[625,596],[735,605],[778,600],[745,625],[945,600],[930,620],[212,605],[175,620],[205,618],[268,612],[290,604],[640,640],[650,620],[843,625],[843,655],[558,635],[520,650],[600,642],[205,648],[255,655],[315,645],[340,642],[288,660],[450,660],[470,650],[565,672],[760,672],[710,655],[710,680],[225,680],[510,680],[560,698],[382,686],[832,687],[174,700],[710,705],[695,715],[227,717],[525,710],[442,714],[295,729],[632,728],[575,735],[350,735],[360,750],[495,740],[515,745],[535,750],[725,752],[175,746],[243,748],[385,750],[880,750],[688,770],[300,775],[450,770],[460,780],[415,780],[405,795],[375,805],[508,790],[560,800],[330,800],[315,805],[370,820],[435,800],[430,830],[298,825],[77,809],[770,818],[845,825],[660,795],[685,810],[262,844],[600,840],[100,852],[178,845],[135,857],[148,875],[195,860],[345,852],[335,865],[310,865],[415,860],[462,858],[490,858],[567,862],[265,880],[630,888],[355,895],[350,910],[535,885],[535,905],[498,917],[463,909],[430,910],[570,905],[270,930],[670,920],[1010,912],[835,965],[143,948],[77,965],[165,972],[278,975],[360,965],[620,968],[645,990],[320,995],[330,985],[183,1007],[247,1001],[403,992],[293,1017],[193,1035],[380,1030],[403,1045],[472,1030],[655,1053],[770,1050],[1067,1035],[1033,1050],[545,1072],[490,1085],[868,1095],[795,1110],[138,1110],[197,1125],[253,1145],[283,1150],[315,1121],[365,1133],[341,1180],[612,1167],[725,1150],[992,1222],[663,1330]];
const layer10Frequent = [[1103,232],[547,297],[776,289],[465,318],[411,343],[1037,333],[1119,339],[871,375],[1000,365],[998,375],[1069,380],[726,367],[735,400],[1135,429],[1278,446],[1307,450],[900,420],[875,440],[822,436],[778,432],[775,457],[755,425],[716,456],[636,440],[432,441],[405,480],[433,503],[497,473],[1090,498],[1210,532],[975,467],[960,478],[935,492],[950,515],[902,488],[810,497],[830,515],[780,518],[875,533],[915,540],[1020,510],[1047,512],[990,525],[980,555],[1030,550],[1085,545],[1110,555],[1135,560],[1192,586],[1258,579],[1260,605],[708,530],[662,541],[588,490],[615,510],[475,522],[490,540],[360,520],[355,540],[545,545],[520,560],[540,570],[375,565],[397,578],[320,587],[242,599],[346,610],[296,610],[372,630],[375,658],[435,627],[570,600],[702,622],[550,655],[650,650],[620,670],[680,660],[760,610],[780,590],[815,590],[875,580],[915,570],[980,610],[1000,590],[1080,590],[1080,605],[1150,625],[1225,630],[1281,647],[1190,650],[1100,650],[1080,670],[1140,665],[1180,670],[1210,670],[310,668],[330,685],[285,690],[345,695],[405,680],[430,680],[475,680],[400,710],[490,715],[370,720],[460,740],[430,748],[398,752],[190,750],[270,755],[270,785],[330,765],[380,790],[265,815],[150,850],[202,835],[215,857],[220,888],[285,880],[313,887],[408,835],[480,805],[500,830],[540,840],[540,860],[600,875],[500,885],[437,897],[276,918],[355,930],[335,950],[382,950],[410,930],[435,940],[480,935],[92,926],[215,983],[240,975],[270,972],[287,998],[365,1020],[420,1012],[445,1010],[470,980],[472,1045],[505,1005],[520,1042],[280,1056],[418,1090],[460,1102],[373,1105],[342,1097],[210,1098],[262,1162],[410,1130],[440,1125],[405,1152],[510,1150],[510,1160],[420,1185],[448,1193],[495,1195],[515,1215],[470,1218],[445,1240],[425,1238],[405,1258],[393,1272],[507,1247],[540,1175],[575,1180],[595,1205],[550,1220],[565,1240],[570,1265],[545,1285],[522,1292],[572,1290],[618,1290],[489,1323],[500,1350],[545,1340],[560,1355],[585,1362],[604,1327],[620,1358],[621,1383],[433,1362],[450,1380],[484,1381],[510,1375],[530,1390],[545,1408],[435,1410],[452,1410],[352,1375],[412,1467],[519,1496],[583,1464],[622,1433],[655,1483],[655,1304],[680,1300],[712,1328],[735,1305],[660,1350],[680,1365],[705,1392],[718,1388],[737,1360],[773,1377],[808,1432],[835,1432],[846,1356],[852,1389],[790,1315],[790,1290],[840,1290],[868,1307],[710,1265],[740,1260],[770,1250],[795,1258],[808,1255],[628,1250],[668,1240],[730,1225],[795,1225],[862,1240],[892,1250],[920,1240],[960,1232],[988,1250],[1078,1240],[1015,1205],[1040,1208],[1095,1203],[950,1190],[900,1157],[850,1200],[890,1218],[1072,1180],[1070,1150],[1130,1125],[1172,1097],[1138,1092],[1108,1090],[1178,1060],[1208,1026],[1190,1003],[1165,972],[1217,944],[1294,943],[1345,870],[1315,885],[1330,897],[1283,897],[1268,885],[1228,883],[1250,853],[1205,855],[1285,820],[1305,808],[1268,802],[1493,768],[1358,708],[1340,730],[1293,752],[1282,712],[1250,740],[1220,710],[1190,740],[1235,778],[1210,800],[1140,850],[1125,855],[1210,908],[1180,935],[1150,1030],[1170,1025],[1130,1015],[940,1275],[912,1270],[942,1328],[900,1320],[904,1357],[918,1430],[790,600],[830,590],[880,610],[1000,605],[1040,620],[770,640],[800,635],[870,645],[905,640],[970,640],[1010,645],[1045,650],[1085,635],[740,690],[790,680],[880,680],[920,675],[960,690],[1040,680],[1080,690],[1120,695],[1160,680],[740,725],[780,720],[830,720],[860,725],[950,725],[990,720],[1030,725],[1070,730],[1110,725],[1150,735],[740,760],[780,765],[810,755],[850,765],[920,760],[960,770],[1000,755],[1040,765],[1080,770],[1130,760],[1170,770],[1200,775],[620,700],[650,730],[600,750],[640,780],[690,740],[670,780],[730,800],[770,790],[810,800],[860,800],[900,790],[940,805],[980,800],[1020,800],[1060,810],[1100,800],[1150,810],[1180,820],[640,830],[680,840],[720,835],[760,845],[800,835],[840,845],[880,835],[920,840],[960,850],[1000,840],[1040,845],[1080,850],[1110,830],[650,880],[690,875],[730,885],[770,880],[810,890],[850,880],[890,885],[930,880],[970,890],[1010,880],[1050,885],[1090,890],[1130,880],[1170,895],[630,920],[680,930],[720,925],[760,935],[800,925],[840,935],[880,925],[920,935],[960,920],[1000,940],[1040,925],[1080,935],[1120,920],[620,990],[660,970],[700,975],[740,970],[780,985],[820,970],[860,975],[900,970],[940,985],[980,970],[1020,975],[1060,970],[1100,985],[1140,965],[580,985],[540,1000],[700,1020],[740,1015],[780,1025],[820,1015],[860,1020],[900,1030],[940,1020],[980,1025],[1020,1010],[1060,1020],[1100,1030],[1140,1020],[570,1060],[610,1040],[640,1070],[680,1060],[720,1060],[760,1075],[800,1060],[840,1070],[880,1065],[920,1060],[960,1075],[1000,1060],[1040,1070],[1090,1060],[600,1110],[650,1110],[690,1105],[730,1115],[780,1110],[820,1120],[860,1110],[910,1105],[970,1115],[1010,1110],[1050,1105],[1080,1115],[630,1150],[670,1165],[710,1150],[760,1155],[810,1175],[860,1165],[960,1160],[1000,1150],[1030,1150],[640,1215],[690,1190],[750,1190],[790,1240],[720,1270]];
const layer10FrequentDense = [[800,620],[890,625],[990,625],[1025,625],[1060,625],[760,655],[890,660],[950,665],[1000,670],[1060,660],[1100,680],[1140,695],[760,700],[800,700],[850,700],[940,705],[975,705],[1010,705],[1050,705],[1090,710],[1130,710],[1170,715],[760,745],[800,745],[830,745],[870,740],[935,740],[975,745],[1015,740],[1055,745],[1095,745],[1135,745],[1185,750],[755,780],[795,780],[835,780],[880,775],[940,785],[980,785],[1020,780],[1060,785],[1115,780],[1155,785],[1190,795],[660,810],[700,815],[745,820],[790,815],[830,820],[880,815],[920,815],[960,825],[1000,820],[1040,825],[1080,825],[1130,830],[1165,830],[665,855],[700,860],[740,860],[785,860],[825,865],[870,860],[910,860],[950,865],[990,860],[1030,865],[1070,865],[1110,870],[1150,870],[670,905],[710,900],[750,910],[790,905],[830,910],[870,905],[910,905],[950,905],[990,910],[1030,905],[1070,910],[1110,905],[1150,905],[640,950],[700,950],[740,950],[780,955],[860,950],[900,950],[940,950],[980,950],[1020,950],[1060,950],[1100,950],[1130,945],[670,950],[640,1010],[680,1005],[720,995],[760,1000],[800,995],[840,1000],[880,1000],[920,1005],[960,1000],[1000,1000],[1040,1000],[1080,1000],[1120,1005],[590,1020],[560,1040],[720,1040],[760,1045],[800,1040],[840,1045],[880,1045],[920,1040],[960,1045],[1000,1040],[1070,1060],[1100,1050],[620,1080],[660,1090],[700,1085],[740,1090],[780,1085],[820,1095],[900,1085],[940,1090],[990,1090],[1030,1085],[1070,1085],[600,1130],[650,1135],[690,1130],[740,1130],[790,1140],[840,1135],[965,1135],[1000,1130],[1030,1125],[660,1200],[700,1220],[730,1240],[620,1190],[680,1160],[720,1200],[600,1160],[580,1210],[620,740],[660,760],[700,770],[620,800],[600,800],[580,830],[700,710],[640,690],[1240,700],[1200,690],[1170,640],[1130,640]];

const panels = [
  {name:layerNames[0], frequent:layer1Frequent.concat(layer1FrequentDense),  rare:layer1Rare,  rareOnTop:true,  top:40,   yStart:117, titleY:25,   legend:[335,53]},
  {name:layerNames[1], frequent:layer4Frequent.concat(layer4FrequentDense),  rare:layer4Rare,  rareOnTop:true,  top:609.5,yStart:145, titleY:592,  legend:[17,992]},
  {name:layerNames[2], frequent:layer7Frequent.concat(layer7FrequentDense),  rare:layer7Rare,  rareOnTop:true,  top:1178, yStart:142, titleY:1162, legend:[335,1562]},
  {name:layerNames[3], frequent:layer10Frequent.concat(layer10FrequentDense),rare:layer10Rare, rareOnTop:false, top:1746, yStart:140, titleY:1731, legend:[335,2129]}
];

const svg = d3.select("#c");
const defs = svg.append("defs");
defs.append("filter").attr("id","soft").append("feGaussianBlur").attr("stdDeviation",0.5);
const panelW = 574, panelH = 489, panelX = 4;

panels.forEach(p => {
  const x = d3.scaleLinear().domain([10,1560]).range([panelX,panelX+panelW]);
  const y = d3.scaleLinear().domain([p.yStart,p.yStart+1421]).range([p.top,p.top+panelH]);
  svg.append("text").attr("x",291).attr("y",p.titleY).attr("text-anchor","middle").attr("font-size",30).text(p.name);
  svg.append("rect").attr("x",panelX).attr("y",p.top).attr("width",panelW).attr("height",panelH).attr("fill","#eaeaf2");
  const g = svg.append("g").attr("filter","url(#soft)");
  const layers = p.rareOnTop ? [[p.frequent,colorFrequent],[p.rare,colorRare]] : [[p.rare,colorRare],[p.frequent,colorFrequent]];
  layers.forEach(([pts,col]) => {
    g.append("g").selectAll("circle").data(pts).join("circle")
      .attr("cx",d=>x(d[0])).attr("cy",d=>y(d[1])).attr("r",6).attr("fill",col);
  });
  const [lx,ly] = p.legend;
  const lg = svg.append("g").attr("transform",`translate(${lx},${ly})`);
  lg.append("rect").attr("width",230).attr("height",91).attr("rx",4)
    .attr("fill","#eaeaf2").attr("fill-opacity",0.8).attr("stroke","#cccccc").attr("stroke-opacity",0.8).attr("stroke-width",2);
  legendLabels.forEach((t,i) => {
    const cy = 25 + i*42;
    lg.append("circle").attr("cx",39).attr("cy",cy).attr("r",9).attr("fill",i? colorRare:colorFrequent);
    lg.append("text").attr("x",92).attr("y",cy+10).attr("font-size",29).text(t);
  });
});
</script></body></html>
